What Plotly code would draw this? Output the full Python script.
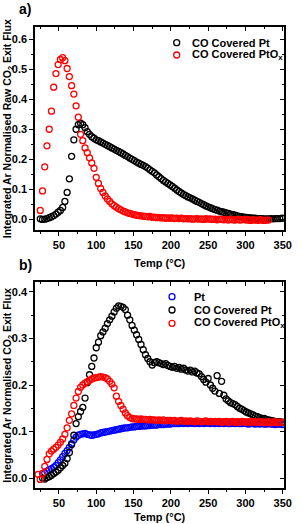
import plotly.graph_objects as go

# ---------------- data ----------------
STEP = 3  # temperature sampling step (°C)

a_pt_start = 25
a_pt = [0.002, 0.000, 0.001, 0.003, 0.006, 0.009, 0.013, 0.018, 0.024, 0.030,
        0.040, 0.060, 0.090, 0.135, 0.210, 0.265, 0.300, 0.315, 0.320, 0.315,
        0.305, 0.292, 0.283, 0.275, 0.270, 0.265, 0.262, 0.258, 0.254, 0.250,
        0.246, 0.242, 0.238, 0.234, 0.230, 0.226, 0.222, 0.218, 0.213, 0.209,
        0.204, 0.200, 0.196, 0.191, 0.187, 0.183, 0.180, 0.176, 0.171, 0.165,
        0.160, 0.155, 0.148, 0.142, 0.136, 0.130, 0.125, 0.120, 0.115, 0.110,
        0.104, 0.098, 0.093, 0.088, 0.083, 0.079, 0.075, 0.072, 0.068, 0.064,
        0.060, 0.057, 0.053, 0.049, 0.045, 0.042, 0.039, 0.036, 0.033, 0.031,
        0.028, 0.026, 0.024, 0.022, 0.020, 0.018, 0.016, 0.014, 0.012, 0.010,
        0.009, 0.008, 0.007, 0.006, 0.005, 0.004, 0.004, 0.003, 0.003, 0.003,
        0.002, 0.002, 0.002, 0.003, 0.002, 0.003, 0.003, 0.003, 0.004]

a_ptox_start = 25
a_ptox = [0.030, 0.095, 0.175, 0.245, 0.300, 0.360, 0.440, 0.485, 0.515, 0.532,
          0.538, 0.528, 0.502, 0.475, 0.445, 0.417, 0.378, 0.340, 0.283, 0.262,
          0.238, 0.222, 0.205, 0.188, 0.170, 0.140, 0.120, 0.103, 0.090, 0.078,
          0.068, 0.060, 0.052, 0.046, 0.041, 0.036, 0.032, 0.028, 0.025, 0.022,
          0.020, 0.018, 0.016, 0.014, 0.013, 0.012, 0.011, 0.010, 0.009, 0.010,
          0.007, 0.008, 0.006, 0.007, 0.005, 0.006, 0.004, 0.005, 0.004, 0.005,
          0.003, 0.004, 0.003, 0.004, 0.002, 0.003, 0.002, 0.003, 0.001, 0.002,
          0.003, 0.001, 0.002, 0.000, 0.003, 0.001, 0.002, 0.000, 0.001, -0.001,
          0.001, 0.000, -0.001, 0.000, -0.002, 0.001, -0.001, -0.002, 0.000, -0.002,
          -0.001, 0.000, -0.002, -0.001, -0.003, -0.001, -0.002, -0.003, -0.001, -0.002,
          -0.003, -0.002, -0.002]

b_pt_start = 31
b_pt = [0.011, 0.015, 0.018, 0.020, 0.023, 0.027, 0.033, 0.039, 0.046, 0.053,
        0.059, 0.066, 0.074, 0.082, 0.088, 0.092, 0.094, 0.095, 0.096, 0.094,
        0.093, 0.092, 0.093, 0.094, 0.095, 0.097, 0.098, 0.099, 0.100, 0.101,
        0.102, 0.103, 0.104, 0.105, 0.106, 0.107, 0.108, 0.108, 0.109, 0.110,
        0.110, 0.111, 0.111, 0.112, 0.112, 0.112, 0.113, 0.113, 0.114, 0.114,
        0.114, 0.115, 0.115, 0.115, 0.116, 0.116, 0.116, 0.117, 0.117, 0.117,
        0.117, 0.118, 0.117, 0.118, 0.117, 0.118, 0.118, 0.117, 0.118, 0.117,
        0.118, 0.117, 0.118, 0.118, 0.117, 0.118, 0.117, 0.118, 0.117, 0.118,
        0.117, 0.118, 0.117, 0.117, 0.118, 0.117, 0.118, 0.117, 0.117, 0.118,
        0.117, 0.116, 0.117, 0.117, 0.116, 0.117, 0.116, 0.117, 0.116, 0.116,
        0.117, 0.116, 0.116, 0.115, 0.116, 0.116, 0.115]

b_copt_start = 28
b_copt = [0.000, -0.002, 0.001, 0.003, 0.006, 0.010, 0.013, 0.017, 0.022, 0.027,
          0.032, 0.042, 0.055, 0.072, 0.092, 0.117, 0.132, 0.143, 0.152, 0.172,
          0.205, 0.222, 0.240, 0.258, 0.280, 0.292, 0.306, 0.314, 0.322, 0.332,
          0.340, 0.348, 0.357, 0.365, 0.370, 0.369, 0.367, 0.362, 0.350, 0.340,
          0.328, 0.318, 0.308, 0.298, 0.287, 0.276, 0.265, 0.257, 0.250, 0.243,
          0.248, 0.250, 0.248, 0.246, 0.244, 0.246, 0.242, 0.240, 0.238, 0.240,
          0.236, 0.238, 0.234, 0.236, 0.232, 0.230, 0.232, 0.228, 0.230, 0.226,
          0.224, 0.218, 0.212, 0.206, 0.214, 0.200, 0.193, 0.187, 0.220, 0.182,
          0.208, 0.178, 0.170, 0.166, 0.162, 0.160, 0.158, 0.154, 0.150, 0.148,
          0.145, 0.142, 0.140, 0.138, 0.136, 0.133, 0.132, 0.130, 0.128, 0.128,
          0.126, 0.125, 0.124, 0.123, 0.122, 0.121, 0.121, 0.120]

b_coptox_start = 22
b_coptox = [0.008, -0.003, 0.010, 0.025, 0.040, 0.052, 0.058, 0.062, 0.066, 0.071,
            0.077, 0.084, 0.094, 0.108, 0.124, 0.138, 0.156, 0.172, 0.186, 0.195,
            0.200, 0.204, 0.207, 0.210, 0.213, 0.215, 0.216, 0.217, 0.218, 0.217,
            0.216, 0.213, 0.208, 0.202, 0.194, 0.176, 0.165, 0.156, 0.148, 0.140,
            0.134, 0.130, 0.128, 0.127, 0.127, 0.126, 0.127, 0.126, 0.126, 0.125,
            0.126, 0.125, 0.125, 0.124, 0.125, 0.124, 0.125, 0.123, 0.124, 0.124,
            0.123, 0.124, 0.122, 0.123, 0.124, 0.122, 0.123, 0.122, 0.123, 0.122,
            0.121, 0.123, 0.122, 0.121, 0.122, 0.123, 0.121, 0.122, 0.121, 0.122,
            0.121, 0.122, 0.120, 0.121, 0.122, 0.120, 0.121, 0.122, 0.120, 0.121,
            0.120, 0.122, 0.121, 0.120, 0.121, 0.120, 0.122, 0.120, 0.121, 0.120,
            0.121, 0.119, 0.120, 0.121, 0.119, 0.120, 0.121, 0.119, 0.120, 0.120]


def temps(start, vals):
    return [start + STEP * i for i in range(len(vals))]


labels_a = ["CO Covered Pt", "CO Covered PtO<sub>x</sub>"]
labels_b = ["Pt", "CO Covered Pt", "CO Covered PtO<sub>x</sub>"]
y_title_a = "Integrated Ar Normalised Raw CO<sub>2</sub> Exit Flux"
y_title_b = "Integrated Ar Normalised CO<sub>2</sub> Exit Flux"
x_title = "Temp (°C)"

# ---------------- styling ----------------
W, H = 302, 524
FONT = "Liberation Sans, Arial, sans-serif"
BLACK, RED, BLUE = "#000000", "#ff0000", "#0000ff"


def px_x(p):
    return p / W


def px_y(p):
    return 1 - p / H


A_X = [px_x(36), px_x(292)]
A_Y = [px_y(230), px_y(27)]
B_Y = [px_y(488.3), px_y(281.7)]
XR = [18, 352]


def marker(c):
    return dict(symbol="circle-open", size=6, color=c, line=dict(width=1.3, color=c))


fig = go.Figure()

fig.add_trace(go.Scatter(x=temps(a_pt_start, a_pt), y=a_pt, mode="markers",
                         marker=marker(BLACK), xaxis="x", yaxis="y", showlegend=False))
fig.add_trace(go.Scatter(x=temps(a_ptox_start, a_ptox), y=a_ptox, mode="markers",
                         marker=marker(RED), xaxis="x", yaxis="y", showlegend=False))
fig.add_trace(go.Scatter(x=temps(b_pt_start, b_pt), y=b_pt, mode="markers",
                         marker=marker(BLUE), xaxis="x2", yaxis="y2", showlegend=False))
fig.add_trace(go.Scatter(x=temps(b_copt_start, b_copt), y=b_copt, mode="markers",
                         marker=marker(BLACK), xaxis="x2", yaxis="y2", showlegend=False))
fig.add_trace(go.Scatter(x=temps(b_coptox_start, b_coptox), y=b_coptox, mode="markers",
                         marker=marker(RED), xaxis="x2", yaxis="y2", showlegend=False))
# carriers for the mirrored (inside) tick axes
for xa, ya in (("x3", "y3"), ("x4", "y4")):
    fig.add_trace(go.Scatter(x=[None], y=[None], xaxis=xa, yaxis=ya,
                             showlegend=False, hoverinfo="skip"))

tickfont = dict(family=FONT, size=11, color="black", weight="bold")


def base_axis(**kw):
    d = dict(showline=True, linecolor="black", linewidth=1.5, mirror=True,
             showgrid=False, zeroline=False, ticks="outside", ticklen=4,
             tickwidth=1.3, tickcolor="black", tickfont=tickfont)
    d.update(kw)
    return d


def inside_axis(**kw):
    d = dict(showline=False, showgrid=False, zeroline=False, ticks="inside",
             ticklen=4, tickwidth=1.3, tickcolor="black", showticklabels=False)
    d.update(kw)
    return d


xminor = dict(dtick=25, ticks="outside", ticklen=2, tickwidth=1.2, tickcolor="black", showgrid=False)
xminor_in = dict(dtick=25, ticks="inside", ticklen=2, tickwidth=1.2, tickcolor="black", showgrid=False)
yminor = dict(dtick=0.05, ticks="outside", ticklen=2, tickwidth=1.2, tickcolor="black", showgrid=False)
yminor_in = dict(dtick=0.05, ticks="inside", ticklen=2, tickwidth=1.2, tickcolor="black", showgrid=False)

YR_A = [-0.035, 0.64]
YR_B = [-0.022, 0.422]

fig.update_layout(
    width=W, height=H, autosize=False,
    margin=dict(l=0, r=0, t=0, b=0, pad=0),
    paper_bgcolor="white", plot_bgcolor="white",
    font=dict(family=FONT, color="black"),
    showlegend=False,
    xaxis=base_axis(domain=A_X, anchor="y", range=XR, tick0=0, dtick=50, minor=xminor),
    yaxis=base_axis(domain=A_Y, anchor="x", range=YR_A, tick0=0, dtick=0.1,
                    tickformat=".1f", minor=yminor),
    xaxis2=base_axis(domain=A_X, anchor="y2", range=XR, tick0=0, dtick=50, minor=xminor),
    yaxis2=base_axis(domain=B_Y, anchor="x2", range=YR_B, tick0=0, dtick=0.1,
                     tickformat=".1f", minor=yminor),
    xaxis3=inside_axis(overlaying="x", anchor="y3", side="top", range=XR, tick0=0,
                       dtick=50, minor=xminor_in),
    yaxis3=inside_axis(overlaying="y", anchor="x3", side="right", range=YR_A, tick0=0,
                       dtick=0.1, minor=yminor_in),
    xaxis4=inside_axis(overlaying="x2", anchor="y4", side="top", range=XR, tick0=0,
                       dtick=50, minor=xminor_in),
    yaxis4=inside_axis(overlaying="y2", anchor="x4", side="right", range=YR_B, tick0=0,
                       dtick=0.1, minor=yminor_in),
)

ann = []
shapes = []


def text(x, y, s, size=11, xanchor="center", angle=0):
    ann.append(dict(x=x, y=y, xref="paper", yref="paper", text="<b>%s</b>" % s,
                    showarrow=False, xanchor=xanchor, yanchor="middle", textangle=angle,
                    font=dict(family=FONT, size=size, color="black")))


# panel letters
text(px_x(17), px_y(9), "a)", size=14, xanchor="left")
text(px_x(17), px_y(265), "b)", size=14, xanchor="left")
# axis titles
text(px_x(164), px_y(263), x_title, size=11)
text(px_x(164), px_y(517), x_title, size=11)
text(px_x(8), px_y(128.5), y_title_a, size=10.5, angle=-90)
text(px_x(8), px_y(385), y_title_b, size=10.5, angle=-90)


# legends (drawn manually for compact spacing)
def legend(cx, tx, ys, labels, colors):
    for y, lab, c in zip(ys, labels, colors):
        shapes.append(dict(type="circle", xref="paper", yref="paper",
                           xsizemode="pixel", ysizemode="pixel",
                           xanchor=px_x(cx), yanchor=px_y(y),
                           x0=-3, x1=3, y0=-3, y1=3,
                           line=dict(color=c, width=1.3)))
        text(px_x(tx), px_y(y), lab, size=11, xanchor="left")


legend(181.5, 195, [42.7, 55], labels_a, [BLACK, RED])
legend(176.7, 197, [296.7, 310, 323.3], labels_b, [BLUE, BLACK, RED])

fig.update_layout(annotations=ann, shapes=shapes)
fig.write_html(
    "out.html",
    config={"displayModeBar": False},
    post_script="document.body.style.margin='0';document.body.style.padding='0';"
                "document.documentElement.style.overflow='hidden';",
)
